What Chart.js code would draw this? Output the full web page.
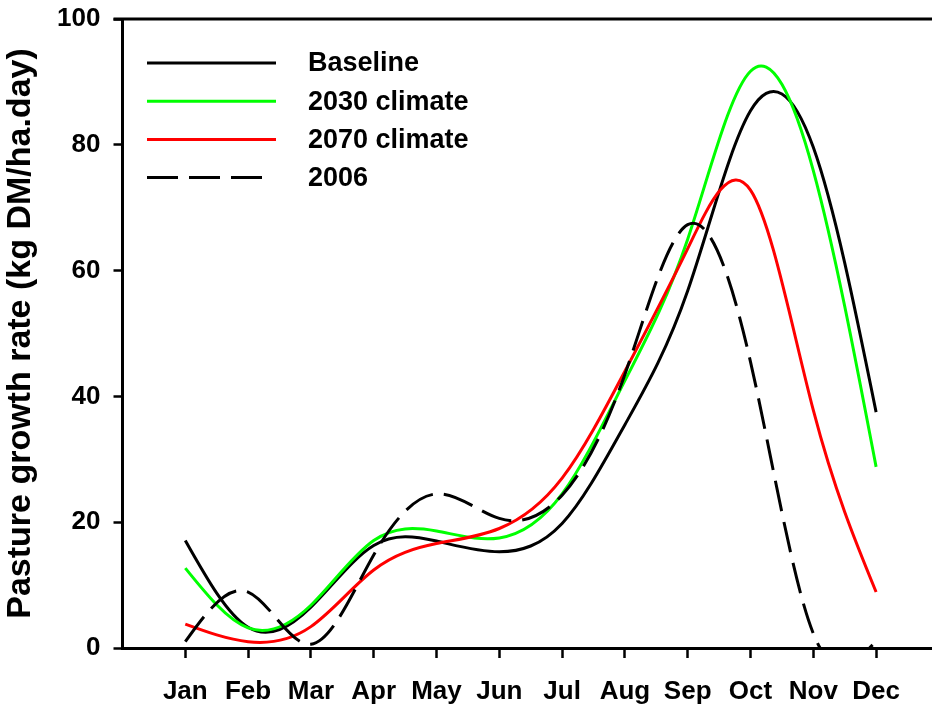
<!DOCTYPE html>
<html>
<head>
<meta charset="utf-8">
<script src="https://cdn.jsdelivr.net/npm/chart.js@4.4.1/dist/chart.umd.min.js"></script>
<style>
  html, body { margin: 0; padding: 0; background: #fff; }
</style>
</head>
<body>
<canvas id="growthChart" width="932" height="708"></canvas>
<script>
// Monthly pasture growth rate (kg DM/ha.day)
const months = ['Jan', 'Feb', 'Mar', 'Apr', 'May', 'Jun', 'Jul', 'Aug', 'Sep', 'Oct', 'Nov', 'Dec'];
const baseline    = [17.1, 3.3, 6.5, 16.3, 17.0, 15.3, 19.8, 35.5, 56.8, 85.4, 79.6, 37.5];
const climate2030 = [12.7, 3.2, 6.8, 17.1, 18.6, 17.5, 24.5, 42.5, 65.0, 91.7, 75.9, 28.8];
const climate2070 = [3.8, 1.0, 3.4, 12.4, 16.6, 19.0, 27.0, 44.0, 63.5, 72.8, 37.8, 8.9];
const year2006    = [1.0, 8.9, 0.6, 14.8, 24.5, 20.6, 24.3, 43.5, 67.3, 45.5, 2.3, 1.1];
const yTicks = [0, 20, 40, 60, 80, 100];

const FONT = "'Liberation Sans', Arial, sans-serif";

const toPoints = arr => arr.map((v, i) => ({ x: i + 1, y: v }));

// smooth the lines like the original plotting program (natural cubic spline
// through the points the library has already placed)
const splinePlugin = {
  id: 'naturalSpline',
  beforeDatasetsDraw(chart) {
    chart.getSortedVisibleDatasetMetas().forEach(meta => {
      const line = meta.dataset;
      const pts = meta.data;
      const n = pts.length;
      if (!line || n < 3) return;
      line.updateControlPoints(chart.chartArea, 'x');
      const h = pts[1].x - pts[0].x;
      // second derivatives (natural ends), uniform spacing
      const M = new Array(n).fill(0);
      const c = new Array(n).fill(0), d = new Array(n).fill(0);
      for (let i = 1; i < n - 1; i++) {
        const rhs = 6 * (pts[i + 1].y - 2 * pts[i].y + pts[i - 1].y) / (h * h);
        const denom = 4 - c[i - 1];
        c[i] = 1 / denom;
        d[i] = (rhs - d[i - 1]) / denom;
      }
      for (let i = n - 2; i >= 1; i--) M[i] = d[i] - c[i] * M[i + 1];
      for (let i = 0; i < n - 1; i++) {
        const a = pts[i], b = pts[i + 1];
        const s0 = (b.y - a.y) / h - h * (2 * M[i] + M[i + 1]) / 6;
        const s1 = (b.y - a.y) / h + h * (M[i] + 2 * M[i + 1]) / 6;
        a.cp2x = a.x + h / 3; a.cp2y = a.y + s0 * h / 3;
        b.cp1x = b.x - h / 3; b.cp1y = b.y - s1 * h / 3;
      }
      line._path = undefined;
    });
  }
};

// top frame line + legend drawn inside the plot
const framePlugin = {
  id: 'frame',
  afterDraw(chart) {
    const { ctx, chartArea } = chart;
    ctx.save();
    ctx.strokeStyle = '#000';
    ctx.lineWidth = 3;
    ctx.beginPath();
    ctx.moveTo(chartArea.left - 9, chartArea.top);
    ctx.lineTo(chart.width, chartArea.top);
    ctx.stroke();

    chart.data.datasets.forEach((ds, i) => {
      const y = 63 + i * 38.2;
      const dashed = ds.borderDash && ds.borderDash.length;
      ctx.strokeStyle = ds.borderColor;
      ctx.lineWidth = ds.borderWidth;
      ctx.setLineDash(dashed ? ds.borderDash : []);
      ctx.beginPath();
      ctx.moveTo(147, y);
      ctx.lineTo(dashed ? 263 : 276, y);
      ctx.stroke();
      ctx.setLineDash([]);
      ctx.fillStyle = '#000';
      ctx.font = 'bold 27px ' + FONT;
      ctx.textBaseline = 'middle';
      ctx.fillText(ds.label, 308, y + 1);
    });
    ctx.restore();
  }
};

new Chart(document.getElementById('growthChart'), {
  type: 'line',
  data: {
    datasets: [
      { label: 'Baseline', data: toPoints(baseline), borderColor: '#000000', borderWidth: 3, order: 4 },
      { label: '2030 climate', data: toPoints(climate2030), borderColor: '#00ff00', borderWidth: 3, order: 3 },
      { label: '2070 climate', data: toPoints(climate2070), borderColor: '#ff0000', borderWidth: 3, order: 2 },
      { label: '2006', data: toPoints(year2006), borderColor: '#000000', borderWidth: 3, borderDash: [31, 11], order: 1 }
    ]
  },
  options: {
    responsive: false,
    devicePixelRatio: 1,
    animation: false,
    layout: { padding: { top: 19, left: 0, right: 0, bottom: 0 } },
    elements: {
      point: { radius: 0, hoverRadius: 0 },
      line: { tension: 0.4, capBezierPoints: false, fill: false }
    },
    plugins: {
      legend: { display: false },
      tooltip: { enabled: false }
    },
    scales: {
      x: {
        type: 'linear',
        min: 0,
        max: 12.89,
        afterBuildTicks: s => { s.ticks = months.map((m, i) => ({ value: i + 1 })); },
        afterFit: s => { s.height = 60; s.paddingLeft = 0; s.paddingRight = 0; },
        ticks: {
          callback: v => months[v - 1] || '',
          color: '#000',
          font: { family: FONT, size: 26, weight: 'bold' },
          padding: 18,
          maxRotation: 0,
          autoSkip: false
        },
        grid: { drawOnChartArea: false, drawTicks: true, tickLength: 10, tickWidth: 2.5, tickColor: '#000' },
        border: { color: '#000', width: 3 }
      },
      y: {
        min: 0,
        max: 100,
        afterBuildTicks: s => { s.ticks = yTicks.map(v => ({ value: v })); },
        afterFit: s => { s.width = 122.5; s.paddingTop = 0; s.paddingBottom = 0; },
        ticks: {
          color: '#000',
          font: { family: FONT, size: 26, weight: 'bold' },
          padding: 13
        },
        grid: { drawOnChartArea: false, drawTicks: true, tickLength: 9, tickWidth: 2.5, tickColor: '#000' },
        border: { color: '#000', width: 3 },
        title: {
          display: true,
          text: 'Pasture growth rate (kg DM/ha.day)',
          color: '#000',
          font: { family: FONT, size: 34, weight: 'bold' },
          padding: { top: 0, bottom: 0 }
        }
      }
    }
  },
  plugins: [splinePlugin, framePlugin]
});
</script>
</body>
</html>
